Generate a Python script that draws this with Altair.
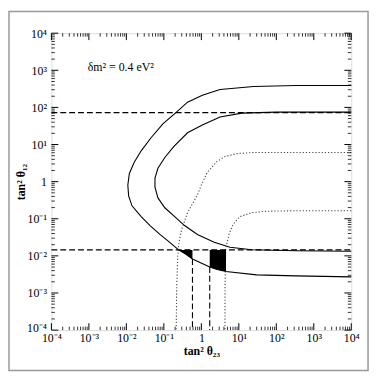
import altair as alt
import pandas as pd

# ---- values (log10 of tan^2 theta23, log10 of tan^2 theta12) ----
outer_solid_x = [4.0, 2.526, 1.395, 0.5, 0.026, -0.368, -0.632, -1.026, -1.342, -1.605, -1.79, -1.92, -1.961,
                 -1.94, -1.85, -1.605, -1.368, -1.105, -0.842, -0.605, -0.421, -0.237, 0.224, 0.421, 0.658,
                 1.474, 2.526, 4.0]
outer_solid_y = [2.591, 2.591, 2.565, 2.485, 2.326, 2.140, 1.900, 1.555, 1.183, 0.83, 0.52, 0.22, -0.093,
                 -0.385, -0.652, -0.944, -1.183, -1.422, -1.635, -1.839, -1.954, -2.086, -2.299, -2.365, -2.419,
                 -2.512, -2.538, -2.565]

inner_solid_x = [4.0, 2.0, 1.079, 0.5, 0.026, -0.368, -0.737, -0.974, -1.158, -1.237, -1.237, -1.158, -0.974,
                 -0.711, -0.447, -0.105, 0.342, 0.763, 1.342, 2.526, 4.0]
inner_solid_y = [1.874, 1.874, 1.847, 1.741, 1.528, 1.316, 0.944, 0.651, 0.359, 0.093, -0.146, -0.439, -0.704,
                 -0.944, -1.183, -1.422, -1.635, -1.767, -1.834, -1.861, -1.874]

outer_dot_x = [4.0, 2.526, 1.395, 0.947, 0.632, 0.421, 0.158, 0.0, -0.105, -0.368, -0.526, -0.605, -0.632,
               -0.658, -0.671]
outer_dot_y = [0.784, 0.784, 0.784, 0.757, 0.678, 0.545, 0.252, -0.093, -0.359, -0.837, -1.289, -1.688, -2.086,
               -2.884, -4.0]

inner_dot_x = [4.0, 2.526, 1.737, 1.342, 1.026, 0.842, 0.737, 0.658, 0.645, 0.632, 0.632]
inner_dot_y = [-0.784, -0.784, -0.797, -0.837, -0.944, -1.156, -1.422, -1.767, -2.086, -2.884, -4.0]

# dashed limits
dash_h_levels = [1.860, -1.839]            # horizontal dashed lines (log10 tan^2 theta12)
dash_v_x = [-0.237, 0.224]                 # vertical dashed lines (log10 tan^2 theta23)
dash_v_top = [-2.086, -2.299]              # where they start (on the outer curve)

# black allowed regions
region1_x = [-0.605, -0.421, -0.237]
region1_lo = [-1.839, -1.954, -2.086]
region1_hi = [-1.839, -1.839, -1.839]
region2_x = [0.224, 0.421, 0.658]
region2_lo = [-2.299, -2.365, -2.419]
region2_hi = [-1.839, -1.839, -1.839]

major_exps = [-4, -3, -2, -1, 0, 1, 2, 3, 4]
tick_labels = ["10⁻⁴", "10⁻³", "10⁻²", "10⁻¹", "1", "10¹", "10²", "10³", "10⁴"]
minor_mults = [2, 3, 4, 5, 6, 7, 8, 9]

annot_text = "δm²  =  0.4  eV²"
annot_x = -3.03
annot_y = 3.09

# ---- tables ----
def curve(name, xs, ys):
    return pd.DataFrame({"x": [10 ** v for v in xs], "y": [10 ** v for v in ys],
                         "curve": name, "o": list(range(len(xs)))})

solid = pd.concat([curve("outer", outer_solid_x, outer_solid_y),
                   curve("inner", inner_solid_x, inner_solid_y)])
dotted = pd.concat([curve("outer", outer_dot_x, outer_dot_y),
                    curve("inner", inner_dot_x, inner_dot_y)])
dash_parts = []
for i, h in enumerate(dash_h_levels):
    dash_parts.append(curve(f"h{i}", [-4, 4], [h, h]))
for i, (v, t) in enumerate(zip(dash_v_x, dash_v_top)):
    dash_parts.append(curve(f"v{i}", [v, v], [t, -4]))
dashed = pd.concat(dash_parts)

regions = pd.concat([
    pd.DataFrame({"x": [10 ** v for v in region1_x], "y": [10 ** v for v in region1_lo],
                  "y2": [10 ** v for v in region1_hi], "r": "a"}),
    pd.DataFrame({"x": [10 ** v for v in region2_x], "y": [10 ** v for v in region2_lo],
                  "y2": [10 ** v for v in region2_hi], "r": "b"}),
])

major_vals = [10.0 ** e for e in major_exps]
minor_vals = [m * 10.0 ** e for e in major_exps[:-1] for m in minor_mults]
maj = pd.DataFrame({"x": major_vals, "y": major_vals})
mnr = pd.DataFrame({"x": minor_vals, "y": minor_vals})

annot = pd.DataFrame({"x": [10 ** annot_x], "y": [10 ** annot_y], "t": [annot_text]})

# ---- encodings ----
W, H = 304, 301
SERIF = "Liberation Serif"
label_expr = "[" + ",".join(f"'{l}'" for l in tick_labels) + "][round(log(datum.value)/LN10)+4]"

xscale = alt.Scale(type="log", domain=[1e-4, 1e4], nice=False)
yscale = alt.Scale(type="log", domain=[1e-4, 1e4], nice=False)

xaxis = alt.Axis(values=major_vals, labelExpr=label_expr, ticks=False, domain=False, grid=False,
                 labelFont=SERIF, labelFontSize=12, labelColor="black", labelPadding=3,
                 labelFlush=False, labelOverlap=False, labelBound=False,
                 title="tan² θ₂₃", titleFont=SERIF, titleFontSize=12, titleFontWeight="bold",
                 titleColor="black", titleY=21, titleBaseline="middle")
yaxis = alt.Axis(values=major_vals, labelExpr=label_expr, ticks=False, domain=False, grid=False,
                 labelFont=SERIF, labelFontSize=12, labelColor="black", labelPadding=5,
                 labelOffset={"condition": {"test": "datum.value < 0.0002", "value": -3}, "value": 0},
                 labelFlush=False, labelOverlap=False, labelBound=False,
                 title="tan² θ₁₂", titleFont=SERIF, titleFontSize=12, titleFontWeight="bold",
                 titleColor="black", titleX=-31, titleBaseline="middle")

X = alt.X("x:Q", scale=xscale, axis=xaxis)
Y = alt.Y("y:Q", scale=yscale, axis=yaxis)

solid_l = alt.Chart(solid).mark_line(color="black", strokeWidth=1.1).encode(
    x=X, y=Y, detail="curve:N", order="o:Q")
dotted_l = alt.Chart(dotted).mark_line(color="#444", strokeWidth=1.1, strokeDash=[1.2, 2]).encode(
    x=X, y=Y, detail="curve:N", order="o:Q")
dashed_l = alt.Chart(dashed).mark_line(color="black", strokeWidth=1.1, strokeDash=[6, 3]).encode(
    x=X, y=Y, detail="curve:N", order="o:Q")
area_l = alt.Chart(regions).mark_area(color="black", opacity=1).encode(
    x=X, y=Y, y2="y2:Q", detail="r:N")

tick_bottom_maj = alt.Chart(maj).mark_rule(color="black", strokeWidth=1).encode(
    x=X, y=alt.value(H), y2=alt.value(H - 7))
tick_bottom_min = alt.Chart(mnr).mark_rule(color="black", strokeWidth=0.8).encode(
    x=X, y=alt.value(H), y2=alt.value(H - 3.5))
tick_top_maj = alt.Chart(maj).mark_rule(color="black", strokeWidth=1).encode(
    x=X, y=alt.value(0), y2=alt.value(7))
tick_top_min = alt.Chart(mnr).mark_rule(color="black", strokeWidth=0.8).encode(
    x=X, y=alt.value(0), y2=alt.value(3.5))
tick_left_maj = alt.Chart(maj).mark_rule(color="black", strokeWidth=1).encode(
    y=Y, x=alt.value(0), x2=alt.value(7))
tick_left_min = alt.Chart(mnr).mark_rule(color="black", strokeWidth=0.8).encode(
    y=Y, x=alt.value(0), x2=alt.value(3.5))
tick_right_maj = alt.Chart(maj).mark_rule(color="black", strokeWidth=1).encode(
    y=Y, x=alt.value(W), x2=alt.value(W - 7))
tick_right_min = alt.Chart(mnr).mark_rule(color="black", strokeWidth=0.8).encode(
    y=Y, x=alt.value(W), x2=alt.value(W - 3.5))

annot_l = alt.Chart(annot).mark_text(font=SERIF, fontSize=12, align="left", baseline="middle",
                                     color="black").encode(x=X, y=Y, text="t:N")

frame = alt.Chart(annot).mark_rect(fill=None, stroke="#999", strokeWidth=1.5).encode(
    x=alt.value(-43), x2=alt.value(321), y=alt.value(-22), y2=alt.value(342))

chart = alt.layer(
    solid_l, dotted_l, dashed_l, area_l,
    tick_bottom_maj, tick_bottom_min, tick_top_maj, tick_top_min,
    tick_left_maj, tick_left_min, tick_right_maj, tick_right_min,
    annot_l, frame
).properties(
    width=W, height=H,
    autosize=alt.AutoSizeParams(type="none"),
    padding={"left": 44, "top": 23, "right": 20, "bottom": 44},
).configure_view(stroke="black", strokeWidth=1.2).configure(background="white")

chart.save("out.html", embed_options={"renderer": "svg", "actions": False})
